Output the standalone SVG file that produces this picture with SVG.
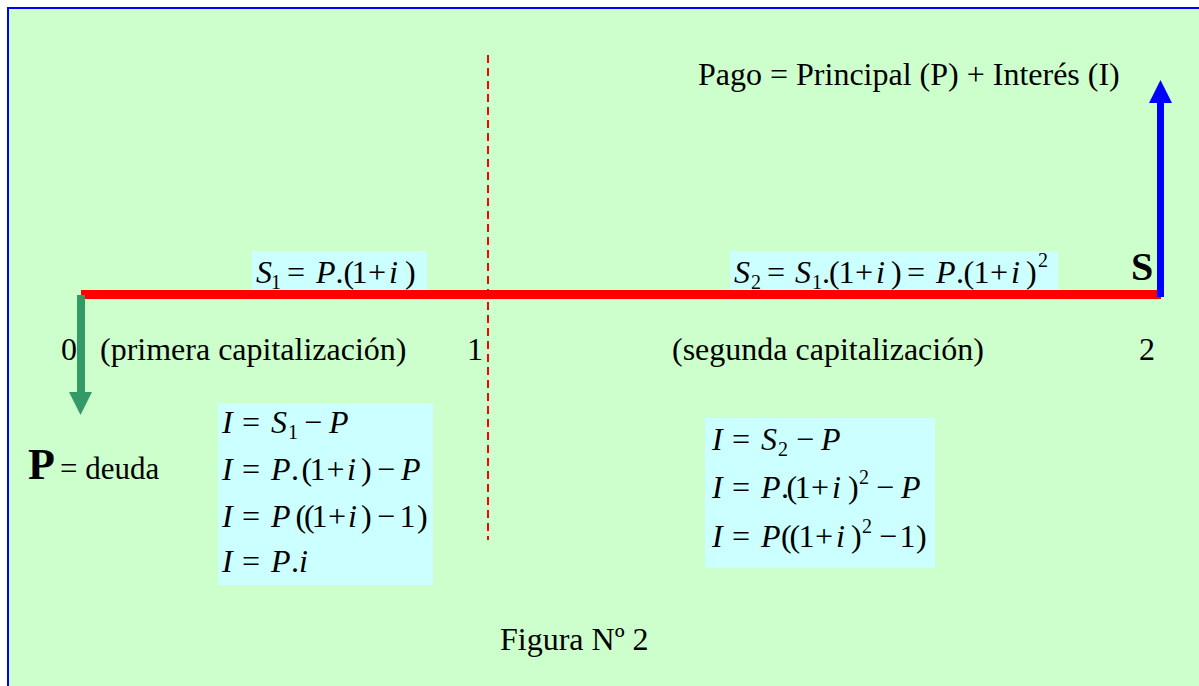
<svg xmlns="http://www.w3.org/2000/svg" width="1199" height="686" viewBox="0 0 1199 686">
<style>
.t{font-family:"Liberation Serif","Times New Roman",serif;font-size:32px;fill:#000}
.m{font-family:"Liberation Serif","Times New Roman",serif;font-size:32px;fill:#000}
.it{font-style:italic}
.sm{font-size:20px}
.box{fill:#CCFFFF}
</style>
<rect x="0" y="0" width="1199" height="686" fill="#FFFFFF"/>
<rect x="8" y="8" width="1200" height="700" fill="#CCFFCC" stroke="#0000FF" stroke-width="2"/>

<g id="connectors">
<line x1="488" y1="55" x2="488" y2="540" stroke="#FF0000" stroke-width="2" stroke-dasharray="8 5"/>
<rect x="81" y="290" width="1080" height="9" fill="#FF0000"/>
<rect x="77" y="295" width="8" height="98" fill="#339966"/>
<polygon points="69,392 92,392 80.5,415" fill="#339966"/>
<rect x="1157" y="102" width="7" height="195" fill="#0000FF"/>
<polygon points="1149,103 1172,103 1160.5,80" fill="#0000FF"/>
</g>

<g id="pago"><text class="t" x="698" y="85">Pago = Principal (P) + Interés (I)</text></g>

<g id="eq-s1">
<rect class="box" x="252" y="251" width="175" height="39"/>
<text class="m" y="283"><tspan x="256" class="it">S</tspan><tspan x="271" y="289" class="sm">1</tspan><tspan x="287" y="283">=</tspan><tspan x="316" class="it">P</tspan><tspan x="335.5 343.5 351.5 368">.(1+</tspan><tspan x="389" class="it">i</tspan><tspan x="405">)</tspan></text>
</g>

<g id="eq-s2">
<rect class="box" x="730" y="251" width="328" height="39"/>
<text class="m" y="283"><tspan x="734" class="it">S</tspan><tspan x="751" y="289" class="sm">2</tspan><tspan x="767" y="283">=</tspan><tspan x="795" class="it">S</tspan><tspan x="812" y="289" class="sm">1</tspan><tspan x="822 829 838.5 855" y="283">.(1+</tspan><tspan x="876" class="it">i</tspan><tspan x="891 907">)=</tspan><tspan x="936" class="it">P</tspan><tspan x="956 963.5 973.5 990">.(1+</tspan><tspan x="1011" class="it">i</tspan><tspan x="1026">)</tspan><tspan x="1038" y="267" class="sm">2</tspan></text>
</g>

<g id="S-label"><text class="t" x="1131" y="280" style="font-weight:bold;font-size:40px">S</text></g>

<g id="axis-labels">
<text class="t" x="61" y="360">0</text>
<text class="t" x="100" y="360">(primera capitalización)</text>
<text class="t" x="467" y="360">1</text>
<text class="t" x="672" y="360">(segunda capitalización)</text>
<text class="t" x="1139" y="360">2</text>
</g>

<g id="P-label"><text class="t" x="28" y="479"><tspan style="font-weight:bold;font-size:44px">P</tspan><tspan x="60" style="font-size:31px">= deuda</tspan></text></g>

<g id="I-left">
<rect class="box" x="218" y="403" width="215" height="182"/>
<text class="m" y="433"><tspan x="222" class="it">I</tspan><tspan x="242">=</tspan><tspan x="271" class="it">S</tspan><tspan x="288" y="439" class="sm">1</tspan><tspan x="304" y="433">−</tspan><tspan x="329" class="it">P</tspan></text>
<text class="m" y="480"><tspan x="222" class="it">I</tspan><tspan x="242">=</tspan><tspan x="271" class="it">P</tspan><tspan x="291 301.5 309.5 326.5">.(1+</tspan><tspan x="347" class="it">i</tspan><tspan x="361 377">)−</tspan><tspan x="401" class="it">P</tspan></text>
<text class="m" y="527"><tspan x="222" class="it">I</tspan><tspan x="242">=</tspan><tspan x="271" class="it">P</tspan><tspan x="295.5 304 311.5 328">((1+</tspan><tspan x="348" class="it">i</tspan><tspan x="361 377 399.5 417">)−1)</tspan></text>
<text class="m" y="572"><tspan x="222" class="it">I</tspan><tspan x="242">=</tspan><tspan x="271" class="it">P</tspan><tspan x="291">.</tspan><tspan x="299" class="it">i</tspan></text>
</g>

<g id="I-right">
<rect class="box" x="705" y="418" width="230" height="150"/>
<text class="m" y="450"><tspan x="712" class="it">I</tspan><tspan x="732">=</tspan><tspan x="761" class="it">S</tspan><tspan x="778" y="456" class="sm">2</tspan><tspan x="796" y="450">−</tspan><tspan x="821" class="it">P</tspan></text>
<text class="m" y="498"><tspan x="712" class="it">I</tspan><tspan x="732">=</tspan><tspan x="761" class="it">P</tspan><tspan x="781 786.5 794.5 811">.(1+</tspan><tspan x="832" class="it">i</tspan><tspan x="848">)</tspan><tspan x="859" y="484" class="sm">2</tspan><tspan x="876" y="498">−</tspan><tspan x="901" class="it">P</tspan></text>
<text class="m" y="547"><tspan x="712" class="it">I</tspan><tspan x="732">=</tspan><tspan x="761" class="it">P</tspan><tspan x="781 789.5 798.5 815">((1+</tspan><tspan x="836" class="it">i</tspan><tspan x="851">)</tspan><tspan x="862" y="533" class="sm">2</tspan><tspan x="879 899.5 916" y="547">−1)</tspan></text>
</g>

<g id="caption"><text class="t" x="500" y="650">Figura Nº 2</text></g>
</svg>
